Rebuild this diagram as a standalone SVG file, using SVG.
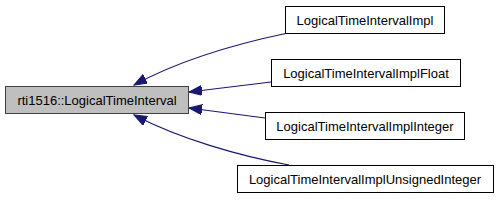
<svg xmlns="http://www.w3.org/2000/svg" width="499" height="200" viewBox="0 0 499 200">
<style>
.node rect{fill:#ffffff;stroke:#000000;stroke-width:1}
#main rect{fill:#bfbfbf;stroke:#404040}
text{font-family:"Liberation Sans",Arial,Helvetica,sans-serif;font-size:13px;fill:#000000;text-anchor:middle}
.edge{fill:none;stroke:#191970;stroke-width:1.2}
</style>
<defs>
<marker id="arr" markerUnits="userSpaceOnUse" markerWidth="14" markerHeight="11" refX="13" refY="5" orient="auto">
<path d="M0,0 L13,5 L0,10 Z" fill="#191970" stroke="#191970" stroke-width="1"/>
</marker>
</defs>
<g id="edges">
<path class="edge" d="M288,33 C240,43 180,60 134,85" marker-end="url(#arr)"/>
<path class="edge" d="M271,82 L189,92" marker-end="url(#arr)"/>
<path class="edge" d="M265,118 L189,108" marker-end="url(#arr)"/>
<path class="edge" d="M289,165 C240,156 180,139 134,115" marker-end="url(#arr)"/>
</g>
<g id="main" class="node">
<rect x="5.5" y="86.5" width="183" height="27"/>
<text x="97" y="104.5">rti1516::LogicalTimeInterval</text>
</g>
<g id="n1" class="node">
<rect x="285.5" y="6.5" width="159" height="27"/>
<text x="365" y="24.5">LogicalTimeIntervalImpl</text>
</g>
<g id="n2" class="node">
<rect x="271.5" y="59.5" width="189" height="27"/>
<text x="366" y="77.5">LogicalTimeIntervalImplFloat</text>
</g>
<g id="n3" class="node">
<rect x="265.5" y="112.5" width="199" height="27"/>
<text x="365" y="130.5">LogicalTimeIntervalImplInteger</text>
</g>
<g id="n4" class="node">
<rect x="237.5" y="165.5" width="256" height="27"/>
<text x="365" y="183.5">LogicalTimeIntervalImplUnsignedInteger</text>
</g>
</svg>
